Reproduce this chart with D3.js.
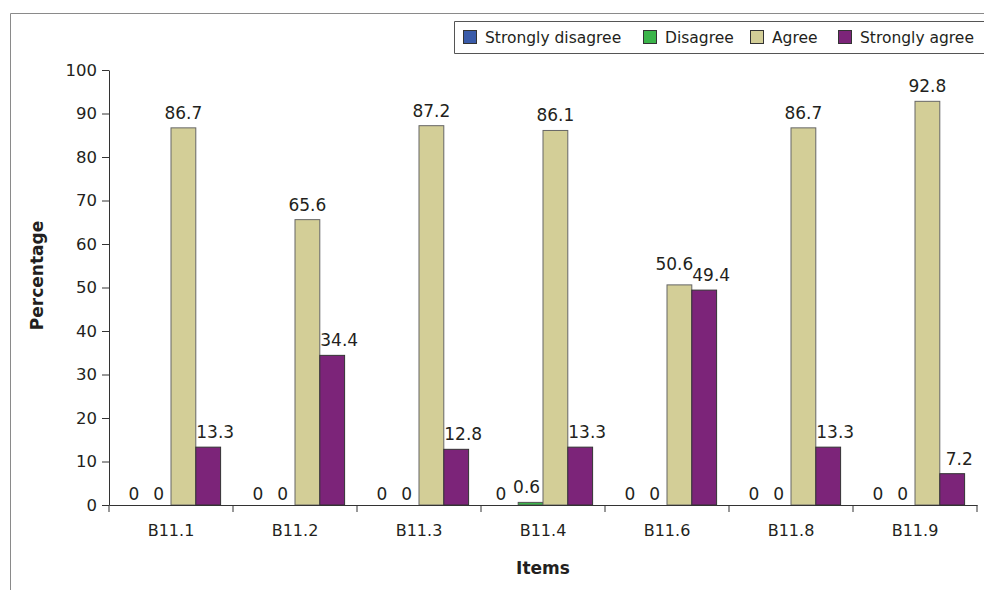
<!DOCTYPE html>
<html><head><meta charset="utf-8">
<script src="https://cdn.jsdelivr.net/npm/d3@7"></script>
<style>body{margin:0;background:#fff}svg{display:block}</style>
</head><body>
<svg id="c" width="984" height="590"></svg>
<script>
const categories = ["B11.1","B11.2","B11.3","B11.4","B11.6","B11.8","B11.9"];
const seriesNames = ["Strongly disagree","Disagree","Agree","Strongly agree"];
const stronglyDisagree = [0,0,0,0,0,0,0];
const disagree = [0,0,0,0.6,0,0,0];
const agree = [86.7,65.6,87.2,86.1,50.6,86.7,92.8];
const stronglyAgree = [13.3,34.4,12.8,13.3,49.4,13.3,7.2];
const yTicks = [0,10,20,30,40,50,60,70,80,90,100];
const colors = ["#3A5BA9","#3BB44A","#D3CE97","#7C2479"];
const strokes = ["#333","#555","#666","#333"];
const seriesVals = [stronglyDisagree, disagree, agree, stronglyAgree];

const svg = d3.select("#c");
const FONT = "DejaVu Sans, sans-serif";
const m = {l:109, r:984-977, t:70, b:590-505};
const W = 984, H = 590;

// outer frame
svg.append("path").attr("d","M10.5,600 L10.5,13.5 L990,13.5").attr("fill","none").attr("stroke","#8a8a8a").attr("stroke-width",1);

const x0 = d3.scaleBand().domain(categories).range([m.l, W-m.r]).paddingInner(0).paddingOuter(0);
const x1 = d3.scaleBand().domain(seriesNames).range([0, x0.bandwidth()]).paddingInner(0).paddingOuter(0.5);
const y = d3.scaleLinear().domain([0,100]).range([H-m.b, m.t]);

// bars
const groups = svg.append("g").selectAll("g").data(categories).join("g")
  .attr("transform", d => `translate(${x0(d)},0)`);
groups.selectAll("rect").data((d,i) => seriesNames.map((s,j) => ({s, j, v: seriesVals[j][i]})))
  .join("rect")
  .attr("x", d => x1(d.s)).attr("width", x1.bandwidth())
  .attr("y", d => y(d.v)).attr("height", d => y(0) - y(d.v))
  .attr("fill", d => colors[d.j]).attr("stroke", d => strokes[d.j]).attr("stroke-width",1)
  .style("display", d => d.v > 0 ? null : "none");

// value labels (nudge labels apart when neighbouring bars are nearly equal)
groups.selectAll("text").data((d,i) => seriesNames.map((s,j) => ({s, j, i, v: seriesVals[j][i]})))
  .join("text")
  .attr("x", d => {
    let dx = d.j === 3 ? 7 : 0;
    if (d.j === 2 && Math.abs(agree[d.i] - stronglyAgree[d.i]) < 5) dx = -5;
    if (d.j === 1 && d.v > 0) dx = -4;
    if (d.j === 0 && disagree[d.i] > 0) dx = -5;
    return x1(d.s) + x1.bandwidth()/2 + dx;
  })
  .attr("y", d => {
    let gap = d.v === 0 ? 5 : 9;
    if (d.j === 2 && Math.abs(agree[d.i] - stronglyAgree[d.i]) < 5) gap = 15;
    return y(d.v) - gap;
  })
  .attr("text-anchor","middle").attr("font-family",FONT).attr("font-size",17).attr("fill","#231f20")
  .text(d => d.v);

// y axis
const yAxis = d3.axisLeft(y).tickValues(yTicks).tickSize(7).tickSizeOuter(0).tickPadding(5);
const gy = svg.append("g").attr("transform",`translate(${m.l},0)`).call(yAxis);
gy.selectAll("text").attr("font-family",FONT).attr("font-size",16.5).attr("fill","#231f20");
gy.selectAll("line,path").attr("stroke","#333");

// x axis
const xAxis = d3.axisBottom(x0).tickSize(0).tickPadding(20);
const gx = svg.append("g").attr("transform",`translate(0,${y(0)})`).call(xAxis);
gx.select(".domain").attr("stroke","#333");
gx.selectAll("text").attr("font-family",FONT).attr("font-size",16).attr("fill","#231f20");
const bounds = categories.map(c => x0(c)).concat([x0(categories[categories.length-1]) + x0.bandwidth()]);
gx.selectAll(".bt").data(bounds).join("line").attr("class","bt")
  .attr("x1", d => d).attr("x2", d => d).attr("y1",0).attr("y2",7).attr("stroke","#333");

// axis titles
svg.append("text").attr("x",(m.l + W - m.r)/2).attr("y",574).attr("text-anchor","middle")
  .attr("font-family",FONT).attr("font-weight","bold").attr("font-size",17).attr("fill","#231f20").text("Items");
svg.append("text").attr("transform",`translate(43,${(y(0)+y(100))/2 - 12}) rotate(-90)`).attr("text-anchor","middle")
  .attr("font-family",FONT).attr("font-weight","bold").attr("font-size",17).attr("fill","#231f20").text("Percentage");

// legend
const lg = svg.append("g");
lg.append("path").attr("d","M990,21.5 L454.5,21.5 L454.5,53.5 L990,53.5").attr("fill","#fff").attr("stroke","#555");
const legX = [463, 643, 750, 838];
seriesNames.forEach((s,j) => {
  lg.append("rect").attr("x",legX[j]+0.5).attr("y",30.5).attr("width",13).attr("height",13)
    .attr("fill",colors[j]).attr("stroke","#333");
  lg.append("text").attr("x",legX[j]+22).attr("y",43).attr("font-family",FONT).attr("font-size",15.5)
    .attr("fill","#231f20").text(s);
});
</script>
</body></html>
